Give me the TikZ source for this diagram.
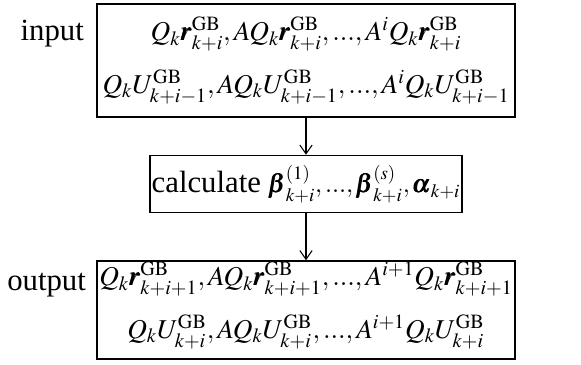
\documentclass[tikz,border=0pt]{standalone}
\usepackage{mathptmx}
\usepackage{amsmath}
\usepackage[no-math]{fontspec}
\setmainfont{Liberation Serif}
\usetikzlibrary{positioning,arrows.meta}
\newcommand{\gbr}[1]{\pmb{r}_{#1}^{\mathrm{GB}}}
\newcommand{\gbu}[1]{U_{#1}^{\mathrm{GB}}}
\newcommand{\sepc}{{,}\mkern2mu}
\newcommand{\dts}{{...}}

\begin{document}
\begin{tikzpicture}[
    node distance=0.72cm,
    box/.style={rectangle, draw=black, line width=0.85pt, align=center,
                minimum width=#1, inner sep=0.5pt,
                font=\fontsize{15.5}{30}\selectfont},
    lbl/.style={font=\fontsize{17.5}{20}\selectfont, inner sep=0pt},
    arr/.style={-{Straight Barb[length=5pt,width=7pt]}, line width=0.6pt}
]
\useasboundingbox (0,0) rectangle (11.62,-7.3);

% input block
\node[box=8.36cm, minimum height=2.26cm] (inbox) at (6.12,-1.21)
  {$Q_k\gbr{k+i}\sepc AQ_k\gbr{k+i}\sepc \dts\sepc A^iQ_k\gbr{k+i}$\\
   $Q_k\gbu{k+i-1}\sepc AQ_k\gbu{k+i-1}\sepc \dts\sepc A^iQ_k\gbu{k+i-1}$};
\node[lbl, left=0.24cm of inbox.north west, anchor=base east, yshift=-0.74cm] (inlbl) {input};

% calculation step
\node[box=6.24cm, minimum height=1.14cm, below=0.74cm of inbox,
      font=\fontsize{17.5}{20}\selectfont] (calc)
  {calculate {\fontsize{14.5}{20}\selectfont$\pmb{\beta}_{k+i}^{(1)}\sepc \dts\sepc \pmb{\beta}_{k+i}^{(s)}\sepc \pmb{\alpha}_{k+i}$}};

% output block
\node[box=8.36cm, minimum height=1.96cm, below=0.94cm of calc] (outbox)
  {$Q_k\gbr{k+i+1}\sepc AQ_k\gbr{k+i+1}\sepc \dts\sepc A^{i+1}Q_k\gbr{k+i+1}$\\
   $Q_k\gbu{k+i}\sepc AQ_k\gbu{k+i}\sepc \dts\sepc A^{i+1}Q_k\gbu{k+i}$\rule[-11pt]{0pt}{1pt}};
\node[lbl, left=0.2cm of outbox.north west, anchor=base east, yshift=-0.6cm] (outlbl) {output};

\draw[arr] (inbox.south) -- (calc.north);
\draw[arr] (calc.south) -- (outbox.north);
\end{tikzpicture}
\end{document}
